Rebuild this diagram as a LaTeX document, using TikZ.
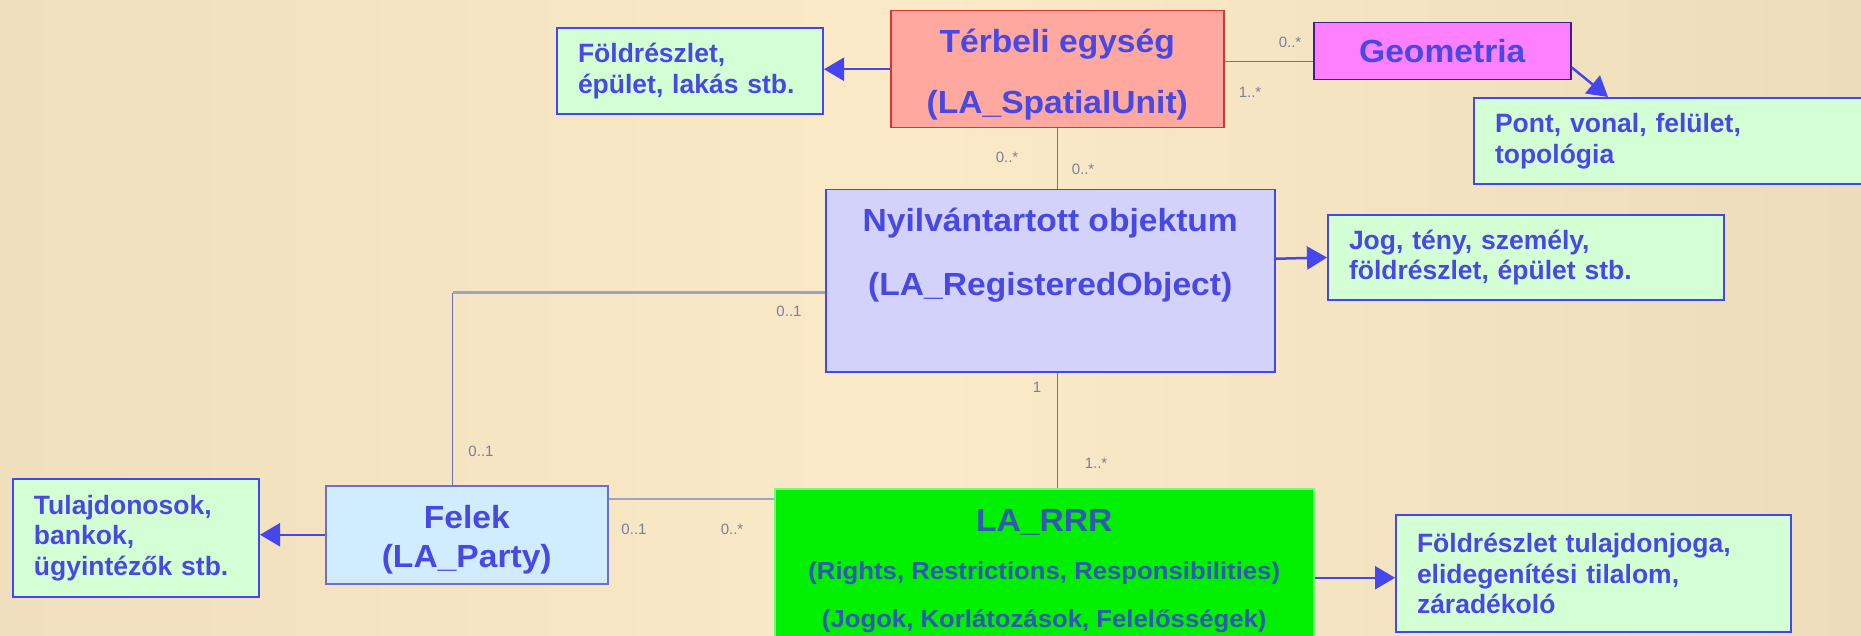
\documentclass[tikz,border=0pt]{standalone}
\usepackage{fontspec}
\setmainfont{Liberation Sans}
\newfontfamily\titlefont{Liberation Sans}[FakeStretch=1.05]
\usetikzlibrary{arrows.meta, positioning}

\definecolor{txtblue}{RGB}{72,72,228}
\definecolor{boxblue}{RGB}{70,70,240}
\definecolor{terbfill}{RGB}{255,168,160}
\definecolor{terbline}{RGB}{220,50,50}
\definecolor{geomfill}{RGB}{255,128,255}
\definecolor{geomline}{RGB}{60,30,150}
\definecolor{nyilfill}{RGB}{210,210,250}
\definecolor{felekfill}{RGB}{208,236,255}
\definecolor{felekline}{RGB}{110,110,210}
\definecolor{rrrfill}{RGB}{0,240,0}
\definecolor{rrrline}{RGB}{120,250,120}
\definecolor{rrrtext}{RGB}{48,88,180}
\definecolor{descfill}{RGB}{212,255,212}
\definecolor{multgray}{RGB}{125,125,155}
\definecolor{assocblue}{RGB}{110,110,190}
\definecolor{assocgray}{RGB}{160,160,200}

\begin{document}
\begin{tikzpicture}[x=1pt, y=-1pt,
  titlebox/.style={draw, line width=1.5pt, anchor=north west, inner sep=0pt},
  titletext/.style={text=txtblue, font=\titlefont\bfseries\fontsize{32}{38}\selectfont, align=center,
    anchor=north, inner sep=0pt},
  descbox/.style={draw=boxblue, fill=descfill, line width=2pt, anchor=north west,
    inner xsep=21pt, inner ysep=0pt, align=left, text=txtblue,
    font=\bfseries\fontsize{26.5}{30.5}\selectfont},
  mult/.style={text=multgray, font=\fontsize{15}{17}\selectfont, inner sep=0pt},
  assoc/.style={draw=assocblue, line width=1.3pt},
  assocthick/.style={draw=assocgray, line width=2.5pt},
  arr/.style={draw=boxblue, line width=2.5pt, -{Triangle[length=20pt,width=23pt]}}]

  % background
  \shade[left color={rgb,255:red,239;green,223;blue,189}, right color={rgb,255:red,236;green,220;blue,186},
    middle color={rgb,255:red,250;green,234;blue,200}] (0,0) rectangle (1861,636);
  \useasboundingbox (0,0) rectangle (1861,636);

  % 1) main classes (box, then its text)
  \node[titlebox, draw=terbline, fill=terbfill, minimum width=333pt, minimum height=117pt] (terb) at (890,10) {};
  \node[titletext] (terbtxt) at ([yshift=-19pt]terb.north) {Térbeli egység\\[23pt](LA\_SpatialUnit)};

  \node[titlebox, draw=geomline, fill=geomfill, minimum width=257pt, minimum height=57pt,
    text=txtblue, text depth=-3pt, font=\titlefont\bfseries\fontsize{32}{38}\selectfont] (geom) at (1313,22) {Geometria};

  \node[titlebox, draw=boxblue, fill=nyilfill, minimum width=449pt, minimum height=182pt] (nyil) at (825,189) {};
  \node[titletext] (nyiltxt) at ([yshift=-19pt]nyil.north) {Nyilvántartott objektum\\[26pt](LA\_RegisteredObject)};

  \node[titlebox, draw=felekline, fill=felekfill, minimum width=282pt, minimum height=98pt] (felek) at (325,485) {};
  \node[titletext] (felektxt) at ([yshift=-20pt]felek.north) {Felek\\[1pt](LA\_Party)};

  \node[titlebox, draw=rrrline, fill=rrrfill, minimum width=539pt, minimum height=160pt] (rrr) at (774,488) {};
  \node[titletext, text=rrrtext, font=\titlefont\bfseries\fontsize{24.5}{48}\selectfont] (rrrtxt)
    at ([yshift=-21pt]rrr.north)
    {{\fontsize{32}{38}\selectfont LA\_RRR}\\(Rights, Restrictions, Responsibilities)\\(Jogok, Korlátozások, Felelősségek)};

  % 2) descriptions
  \node[descbox, text width=224pt, minimum height=86pt] (fold) at (556,27) {Földrészlet,\\épület, lakás stb.};
  \node[descbox, text width=400pt, minimum height=86pt] (pont) at (1473,97) {Pont, vonal, felület,\\topológia};
  \node[descbox, text width=354pt, minimum height=85pt] (jog) at (1327,214) {Jog, tény, személy,\\földrészlet, épület stb.};
  \node[descbox, text width=204pt, minimum height=118pt] (tulaj) at (12,478) {Tulajdonosok,\\bankok,\\ügyintézők stb.};
  \node[descbox, text width=353pt, minimum height=117pt] (foldtul) at (1395,514)
    {Földrészlet tulajdonjoga,\\elidegenítési tilalom,\\záradékoló};

  % 3) associations
  \coordinate (felektop) at ([xshift=-14pt]felek.north);
  \coordinate (bend) at ([yshift=-12pt]nyil.west -| felektop);
  \draw[assoc] ([yshift=8pt]terb.east) -- ([yshift=-10pt]geom.west);
  \draw[assoc] (terb.south) -- (terb.south |- nyil.north);
  \draw[assoc] (terb.south |- nyil.south) -- (terb.south |- rrr.north);
  \draw[assocthick] ([yshift=-12pt]nyil.west) -- (bend);
  \draw[assoc] (bend) -- (felektop);
  \draw[assocthick] ([yshift=36pt]felek.east) -- ([yshift=36pt]felek.east -| rrr.west);

  % 4) arrows to descriptions
  \draw[arr] (terb.west) -- (terb.west -| fold.east);
  \draw[arr] ([yshift=-16pt]geom.east) -- ([xshift=135pt]pont.north west);
  \draw[arr] ([yshift=22pt]nyil.east) -- (jog.west);
  \draw[arr] (felek.west) -- (felek.west -| tulaj.east);
  \draw[arr] ([yshift=-9pt]rrr.east) -- ([yshift=-9pt]rrr.east -| foldtul.west);

  % multiplicities
  \node[mult] (m1) at (1290,42) {0..*};
  \node[mult] (m2) at (1250,92) {1..*};
  \node[mult] (m3) at (1007,157) {0..*};
  \node[mult] (m4) at (1083,169) {0..*};
  \node[mult] (m5) at (789,311) {0..1};
  \node[mult] (m6) at (481,451) {0..1};
  \node[mult] (m7) at (1037,387) {1};
  \node[mult] (m8) at (1096,463) {1..*};
  \node[mult] (m9) at (634,529) {0..1};
  \node[mult] (m10) at (732,529) {0..*};
\end{tikzpicture}
\end{document}
